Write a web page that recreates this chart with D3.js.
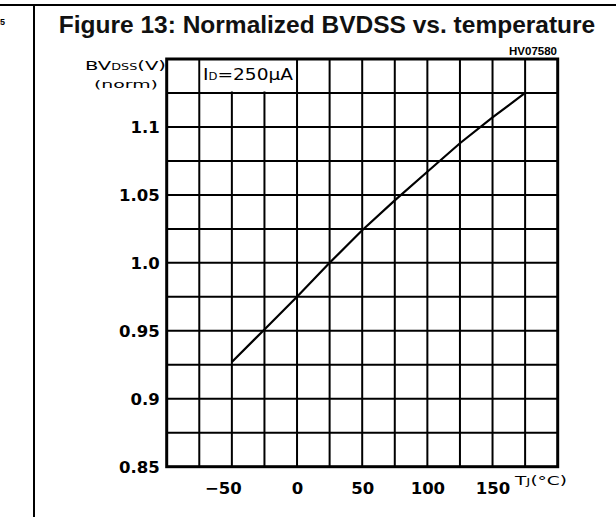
<!DOCTYPE html>
<html>
<head>
<meta charset="utf-8">
<script src="https://cdn.jsdelivr.net/npm/d3@7"></script>
<style>
  html, body { margin: 0; padding: 0; background: #fff; }
  svg { display: block; }
</style>
</head>
<body>
<script>
// ---- data ----
const tempC = [-50, -25, 0, 25, 50, 75, 100, 125, 150, 175];
const bvdssNorm = [0.927, 0.951, 0.975, 1.0, 1.024, 1.046, 1.067, 1.088, 1.107, 1.125];
const xTicks = [-50, 0, 50, 100, 150];
const xTickLabels = ["\u221250", "0", "50", "100", "150"];
const yTicks = [0.85, 0.9, 0.95, 1.0, 1.05, 1.1];
const yTickLabels = ["0.85", "0.9", "0.95", "1.0", "1.05", "1.1"];
const xGrid = [-75, -50, -25, 0, 25, 50, 75, 100, 125, 150, 175];
const yGrid = [0.875, 0.9, 0.925, 0.95, 0.975, 1.0, 1.025, 1.05, 1.075, 1.1, 1.125];
const titleText = "Figure 13: Normalized BVDSS vs. temperature";
const codeText = "HV07580";

const W = 616, H = 517;
const svg = d3.select("body").append("svg").attr("width", W).attr("height", H);

// page frame lines
svg.append("line").attr("x1", 0).attr("x2", W).attr("y1", 5).attr("y2", 5)
  .attr("stroke", "#000").attr("stroke-width", 2);
svg.append("line").attr("x1", 34).attr("x2", 34).attr("y1", 5).attr("y2", H)
  .attr("stroke", "#000").attr("stroke-width", 2);
svg.append("text").attr("x", 0).attr("y", 25).attr("font-family", "Liberation Sans, Arial")
  .attr("font-weight", "bold").attr("font-size", 9).text("5");

// title
svg.append("text").attr("x", 327).attr("y", 33).attr("text-anchor", "middle")
  .attr("font-family", "Liberation Sans, Arial").attr("font-weight", "bold")
  .attr("font-size", 24.5).attr("fill", "#111").text(titleText);
svg.append("text").attr("x", 557).attr("y", 55).attr("text-anchor", "end")
  .attr("font-family", "Liberation Sans, Arial").attr("font-weight", "bold")
  .attr("font-size", 11.5).text(codeText);

// scales
const x = d3.scaleLinear().domain([-100, 200]).range([166.7, 557.7]);
const y = d3.scaleLinear().domain([0.85, 1.15]).range([466.7, 59]);

const g = svg.append("g");

// grid
g.selectAll("line.vg").data(xGrid).join("line").attr("class", "vg")
  .attr("x1", d => x(d)).attr("x2", d => x(d))
  .attr("y1", y(1.15)).attr("y2", y(0.85))
  .attr("stroke", "#000").attr("stroke-width", 2);
g.selectAll("line.hg").data(yGrid).join("line").attr("class", "hg")
  .attr("x1", x(-100)).attr("x2", x(200))
  .attr("y1", d => y(d)).attr("y2", d => y(d))
  .attr("stroke", "#000").attr("stroke-width", 2);

// annotation box (clears grid lines in top cell)
g.append("rect").attr("x", x(-75) + 1.5).attr("y", y(1.15) + 1)
  .attr("width", x(0) - x(-75) - 3).attr("height", y(1.125) - y(1.15) - 2.5)
  .attr("fill", "#fff");

// border
g.append("rect").attr("x", x(-100)).attr("y", y(1.15))
  .attr("width", x(200) - x(-100)).attr("height", y(0.85) - y(1.15))
  .attr("fill", "none").attr("stroke", "#000").attr("stroke-width", 3);

// data line
const line = d3.line().x((d, i) => x(tempC[i])).y(d => y(d));
g.append("path").datum(bvdssNorm).attr("d", line)
  .attr("fill", "none").attr("stroke", "#000").attr("stroke-width", 2.2);

// axes (labels only)
const tickFont = "DejaVu Sans, Verdana, sans-serif";
const yAxis = d3.axisLeft(y).tickValues(yTicks).tickSize(0).tickPadding(0)
  .tickFormat((d, i) => yTickLabels[i]);
const ya = svg.append("g").attr("transform", `translate(${x(-100) - 7},0)`).call(yAxis);
ya.select(".domain").remove();
ya.selectAll("text").attr("font-family", tickFont).attr("font-weight", "bold")
  .attr("font-size", 16.5).attr("fill", "#000").attr("dy", "0.36em");

const xAxis = d3.axisBottom(x).tickValues(xTicks).tickSize(0).tickPadding(0)
  .tickFormat((d, i) => xTickLabels[i]);
const xa = svg.append("g").attr("transform", `translate(0,${y(0.85)})`).call(xAxis);
xa.select(".domain").remove();
xa.selectAll("text").attr("font-family", tickFont).attr("font-weight", "bold")
  .attr("font-size", 16.5).attr("fill", "#000").attr("y", 27).attr("dy", 0)
  .attr("dx", d => d < 0 ? -9 : 0);

// axis titles
const plotFont = "DejaVu Sans, sans-serif";
const yl = svg.append("text").attr("x", 166).attr("y", 70).attr("text-anchor", "end")
  .attr("font-family", plotFont).attr("font-size", 13).attr("fill", "#000")
  .attr("textLength", 81).attr("lengthAdjust", "spacingAndGlyphs");
yl.append("tspan").text("BV");
yl.append("tspan").attr("font-size", 8.5).text("DSS");
yl.append("tspan").text("(V)");
svg.append("text").attr("x", 158).attr("y", 88).attr("text-anchor", "end")
  .attr("font-family", plotFont).attr("font-size", 11).attr("fill", "#000")
  .attr("textLength", 64).attr("lengthAdjust", "spacingAndGlyphs").text("(norm)");

const xl = svg.append("text").attr("x", 515).attr("y", 485)
  .attr("font-family", plotFont).attr("font-size", 12).attr("fill", "#000")
  .attr("textLength", 52).attr("lengthAdjust", "spacingAndGlyphs");
xl.append("tspan").text("T");
xl.append("tspan").attr("font-size", 9).text("J");
xl.append("tspan").text("(\u00B0C)");

const ann = svg.append("text").attr("x", 203).attr("y", 80)
  .attr("font-family", plotFont).attr("font-size", 16).attr("fill", "#000")
  .attr("textLength", 90).attr("lengthAdjust", "spacingAndGlyphs");
ann.append("tspan").text("I");
ann.append("tspan").attr("font-size", 10).text("D");
ann.append("tspan").text("=250\u00B5A");
</script>
</body>
</html>
